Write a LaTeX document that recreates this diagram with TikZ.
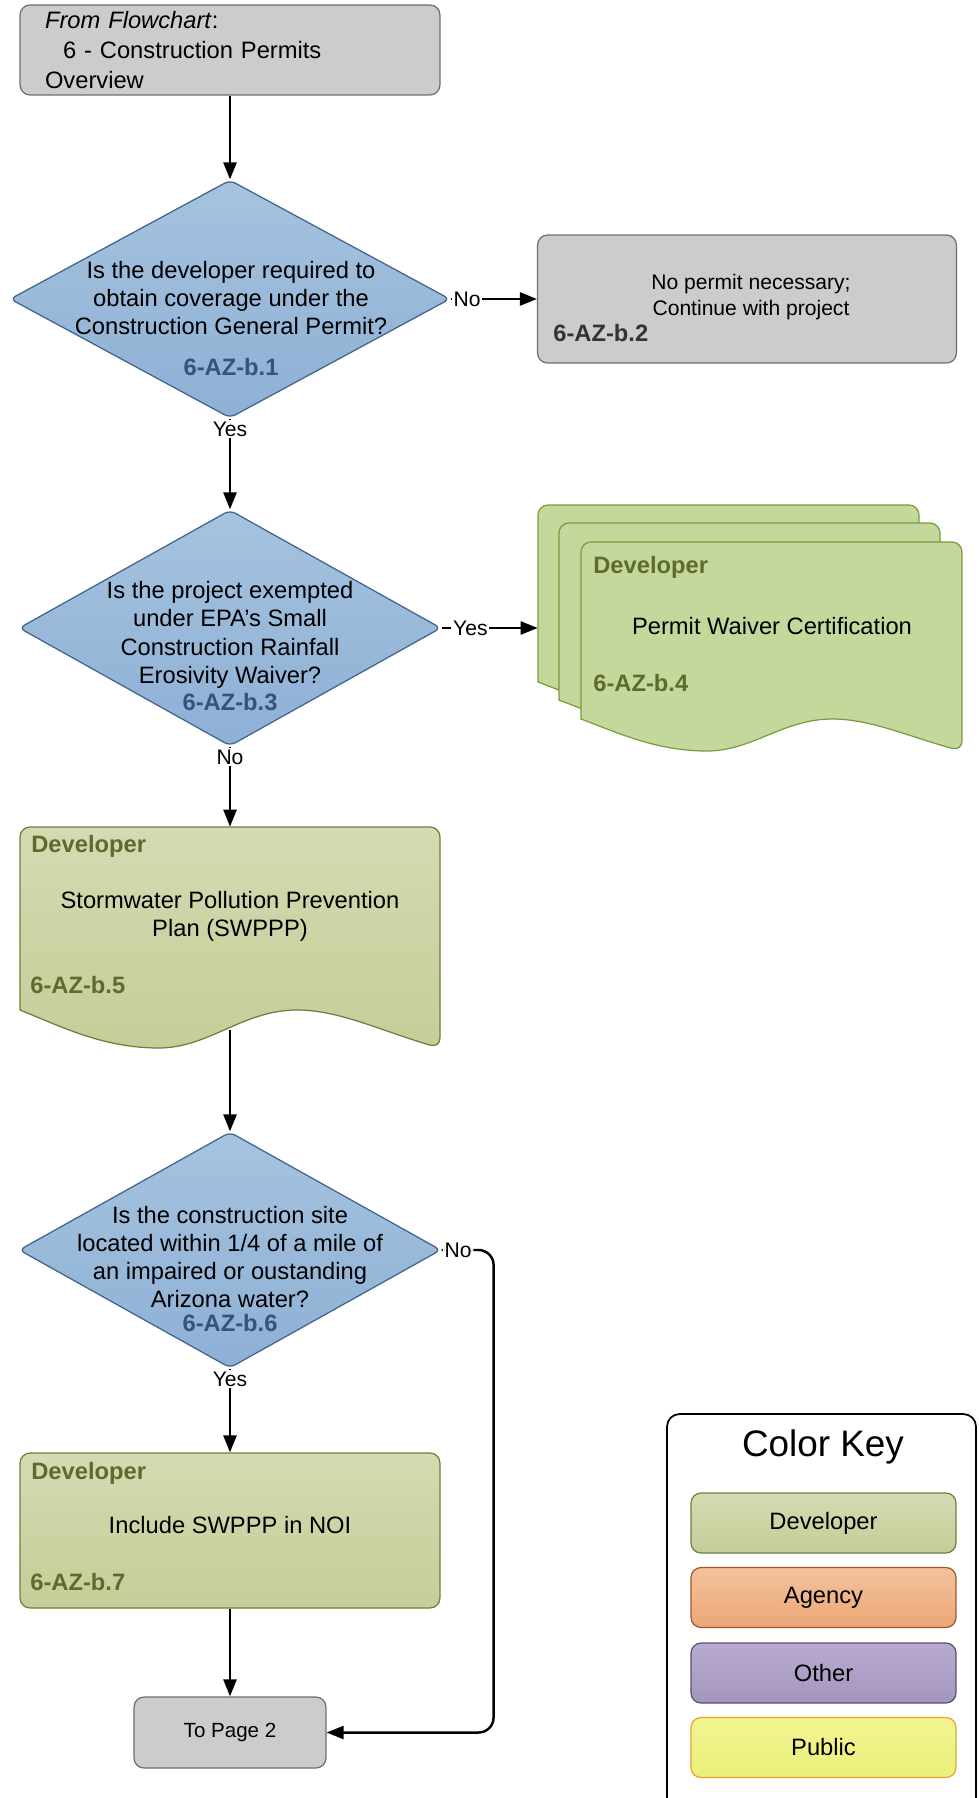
\documentclass[tikz,border=0pt]{standalone}
\usepackage{fontspec}
\setmainfont{Liberation Sans}
\usetikzlibrary{shapes.geometric,arrows.meta}

\definecolor{grayfill}{HTML}{CCCCCC}
\definecolor{grayline}{HTML}{6E6E6E}
\definecolor{diatop}{HTML}{A6C3DF}
\definecolor{diabot}{HTML}{8EB0D5}
\definecolor{dialine}{HTML}{3F6289}
\definecolor{diaid}{HTML}{34557A}
\definecolor{devtop}{HTML}{D3DBB2}
\definecolor{devbot}{HTML}{C5CD98}
\definecolor{devline}{HTML}{6E7D3C}
\definecolor{devtext}{HTML}{5F6B2E}
\definecolor{wavfill}{HTML}{C5D89C}
\definecolor{wavline}{HTML}{7A9C3F}
\definecolor{agtop}{HTML}{F3C29E}
\definecolor{agbot}{HTML}{ECA775}
\definecolor{agline}{HTML}{A0572A}
\definecolor{ottop}{HTML}{B8ABCE}
\definecolor{otbot}{HTML}{A495BF}
\definecolor{otline}{HTML}{5A4E78}
\definecolor{putop}{HTML}{F2F590}
\definecolor{pubot}{HTML}{EAF07A}
\definecolor{puline}{HTML}{E2A52A}

\newcommand{\bodyfont}{\fontsize{13.5}{16.1}\selectfont}
% document shape: style, left x, top y, width, left height, wave depth
\newcommand{\docshape}[6]{%
  \path[#1] (#2,#3+#5) [rounded corners=0.2cm] -- (#2,#3) -- (#2+#4,#3) -- (#2+#4,#3+#5+#6) [sharp corners]
    .. controls (#2+0.86*#4,#3+#5+0.55*#6) and (#2+0.76*#4,#3+#5) .. (#2+0.66*#4,#3+#5)
    .. controls (#2+0.53*#4,#3+#5) and (#2+0.45*#4,#3+#5+#6) .. (#2+0.33*#4,#3+#5+#6)
    .. controls (#2+0.2*#4,#3+#5+#6) and (#2+0.1*#4,#3+#5+0.45*#6) .. (#2,#3+#5) -- cycle;}

\tikzset{
  conn/.style={line width=1.4pt, -{Triangle[length=0.34cm,width=0.26cm]}},
  lbl/.style={fill=white, inner sep=1pt, font=\fontsize{12}{14}\selectfont},
  graybox/.style={rectangle, rounded corners=0.2cm, draw=grayline, line width=0.7pt, fill=grayfill},
  decision/.style={diamond, draw=dialine, line width=0.7pt, top color=diatop, bottom color=diabot,
    rounded corners=0.12cm, inner sep=0, minimum width=8.44cm, minimum height=4.72cm},
  qtext/.style={align=center, font=\bodyfont},
  stepid/.style={font=\bodyfont\bfseries, text=diaid},
  devtag/.style={font=\bodyfont\bfseries, text=devtext, anchor=west, inner sep=0},
  devdoc/.style={draw=devline, line width=0.7pt, top color=devtop, bottom color=devbot},
  wavdoc/.style={draw=wavline, line width=0.7pt, fill=wavfill},
  keyentry/.style={rectangle, rounded corners=0.2cm, line width=0.7pt, minimum width=5.3cm,
    minimum height=1.2cm, font=\bodyfont}
}

\begin{document}
\begin{tikzpicture}[x=0.02cm, y=-0.02cm]
\useasboundingbox (0,0) rectangle (979,1798);

% start
\node[graybox, minimum width=8.4cm, minimum height=1.8cm, text width=7.4cm, align=left, inner sep=0,
  font=\fontsize{13.5}{17}\selectfont] (start) at (230,50)
  {\textit{From Flowchart}:\\\hspace*{0.36cm}6 - Construction Permits\\Overview};

% question 1
\node[decision, minimum width=8.8cm, minimum height=4.76cm] (q1) at (230,299) {};
\node[qtext] (q1txt) at (231,298) {Is the developer required to\\obtain coverage under the\\Construction General Permit?};
\node[stepid] (q1id) at (231,367) {6-AZ-b.1};

% no permit
\node[graybox, minimum width=8.38cm, minimum height=2.56cm] (b2) at (747,299) {};
\node[align=center, font=\fontsize{12}{14.3}\selectfont] (b2txt) at (751,297) {No permit necessary;\\Continue with project};
\node[font=\bodyfont\bfseries, text=black!80, anchor=west, inner sep=0] (b2id) at (553,333) {6-AZ-b.2};

% question 2
\node[decision] (q2) at (230,628) {};
\node[qtext] (q2txt) at (230,635) {Is the project exempted\\under EPA's Small\\Construction Rainfall\\Erosivity Waiver?};
\node[stepid] (q2id) at (230,702) {6-AZ-b.3};

% waiver (stack of documents)
\docshape{wavdoc}{538}{505}{381}{177}{32}
\docshape{wavdoc}{559}{523}{381}{177}{32}
\docshape{wavdoc}{581}{542}{381}{177}{32}
\node[inner sep=0, minimum width=7.62cm, minimum height=3.54cm] (b4back) at (728.5,593.5) {};
\node[devtag] (b4who) at (593,567) {Developer};
\node[font=\bodyfont] (b4txt) at (772,626) {Permit Waiver Certification};
\node[devtag] (b4id) at (593,683) {6-AZ-b.4};

% SWPPP
\docshape{devdoc}{20}{827}{420}{183}{38}
\node[inner sep=0, minimum width=8.4cm, minimum height=3.66cm] (b5) at (230,918.5) {};
\node[devtag] (b5who) at (31,846) {Developer};
\node[qtext] (b5txt) at (230,916) {Stormwater Pollution Prevention\\Plan (SWPPP)};
\node[devtag] (b5id) at (30,985) {6-AZ-b.5};

% question 3
\node[decision] (q3) at (230,1250) {};
\node[qtext] (q3txt) at (230,1257) {Is the construction site\\located within 1/4 of a mile of\\an impaired or oustanding\\Arizona water?};
\node[stepid] (q3id) at (230,1323) {6-AZ-b.6};

% include SWPPP
\node[rectangle, rounded corners=0.2cm, devdoc, minimum width=8.4cm, minimum height=3.1cm] (b7) at (230,1530.5) {};
\node[devtag] (b7who) at (31,1473) {Developer};
\node[font=\bodyfont] (b7txt) at (230,1525) {Include SWPPP in NOI};
\node[devtag] (b7id) at (30,1582) {6-AZ-b.7};

% to page 2
\node[graybox, minimum width=3.84cm, minimum height=1.42cm, font=\fontsize{11.7}{14}\selectfont] (p2) at (230,1732.5) {To Page 2};

% connectors
\draw[conn] (start) -- (q1);
\draw[conn] (q1) -- node[lbl, pos=0, anchor=west] (l1) {No} (b2);
\draw[conn] (q1) -- node[lbl, pos=0, anchor=north] (l2) {Yes} (q2);
\draw[conn] (q2.east) -- node[lbl, pos=0.3] (l3) {Yes} (q2.east -| b4back.west);
\draw[conn] (q2) -- node[lbl, pos=0, anchor=north] (l4) {No} (b5);
\draw[conn] ([yshift=-0.4cm]b5.south) -- (q3);
\draw[conn] (q3) -- node[lbl, pos=0, anchor=north] (l5) {Yes} (b7);
\draw[conn] (b7) -- (p2);
\draw[conn, rounded corners=0.3cm] (q3.east) -- node[lbl, pos=0, anchor=west] (l6) {No} ++(52,0) |- (p2.east);

% color key
\node[rectangle, rounded corners=0.25cm, draw=black, line width=1pt, minimum width=6.18cm, minimum height=8.32cm] (key) at (821.5,1622) {};
\node[font=\fontsize{21}{25}\selectfont] (keytitle) at (823,1447) {Color Key};
\node[keyentry, draw=devline, top color=devtop, bottom color=devbot] (kdev) at (823.5,1523) {Developer};
\node[keyentry, draw=agline, top color=agtop, bottom color=agbot] (kag) at (823.5,1597.5) {Agency};
\node[keyentry, draw=otline, top color=ottop, bottom color=otbot] (kot) at (823.5,1673) {Other};
\node[keyentry, draw=puline, top color=putop, bottom color=pubot] (kpu) at (823.5,1747.5) {Public};
\end{tikzpicture}
\end{document}
